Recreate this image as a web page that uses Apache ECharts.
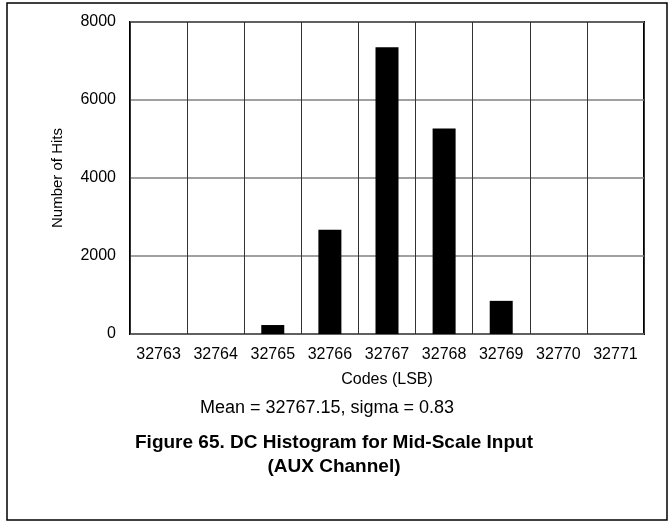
<!DOCTYPE html>
<html>
<head>
<meta charset="utf-8">
<script src="https://cdn.jsdelivr.net/npm/echarts@6/dist/echarts.min.js"></script>
<style>
  html, body { margin: 0; padding: 0; background: #fff; }
  #chart { width: 671px; height: 523px; }
</style>
</head>
<body>
<div id="chart"></div>
<script>
const codes = ['32763', '32764', '32765', '32766', '32767', '32768', '32769', '32770', '32771'];
const hits = [0, 0, 230, 2670, 7350, 5270, 850, 0, 0];
const yTicks = { min: 0, max: 8000, interval: 2000 };

const chart = echarts.init(document.getElementById('chart'), null, { renderer: 'canvas' });
const font = '"Liberation Sans", Arial, sans-serif';

const option = {
  animation: false,
  backgroundColor: '#fff',
  grid: {
    left: 130,
    top: 22,
    right: 27,
    bottom: 189,
    show: true,
    borderColor: '#000',
    borderWidth: 2,
    backgroundColor: 'transparent'
  },
  xAxis: {
    type: 'category',
    data: codes,
    name: 'Codes (LSB)',
    nameLocation: 'middle',
    nameGap: 38,
    nameTextStyle: { color: '#000', fontSize: 16, fontFamily: font },
    axisLine: { show: false },
    axisTick: { show: false },
    axisLabel: { color: '#000', fontSize: 16, fontFamily: font, margin: 13, interval: 0 },
    splitLine: { show: true, interval: 0, lineStyle: { color: '#333', width: 1 } }
  },
  yAxis: {
    type: 'value',
    min: yTicks.min,
    max: yTicks.max,
    interval: yTicks.interval,
    name: 'Number of Hits',
    nameLocation: 'middle',
    nameGap: 65,
    nameTextStyle: { color: '#000', fontSize: 15, fontFamily: font },
    axisLine: { show: false },
    axisTick: { show: false },
    axisLabel: {
      color: '#000', fontSize: 16, fontFamily: font, margin: 14,
      formatter: (v) => String(v)
    },
    splitLine: { show: true, lineStyle: { color: '#808080', width: 1.5 } }
  },
  series: [{
    type: 'bar',
    data: hits,
    barWidth: 23,
    itemStyle: { color: '#000' }
  }],
  graphic: [
    {
      type: 'rect',
      shape: { x: 7, y: 3, width: 660, height: 517 },
      style: { fill: 'none', stroke: '#000', lineWidth: 1.5 },
      silent: true
    },
    {
      type: 'text',
      x: 327,
      y: 408,
      style: {
        text: 'Mean = 32767.15, sigma = 0.83',
        fill: '#000',
        font: '18px ' + font,
        textAlign: 'center',
        textVerticalAlign: 'middle'
      }
    },
    {
      type: 'text',
      x: 334,
      y: 455,
      style: {
        text: 'Figure 65. DC Histogram for Mid-Scale Input\n(AUX Channel)',
        fill: '#000',
        font: 'bold 19px ' + font,
        lineHeight: 24,
        textAlign: 'center',
        textVerticalAlign: 'middle'
      }
    }
  ]
};

chart.setOption(option);
window.addEventListener('resize', chart.resize);
</script>
</body>
</html>
